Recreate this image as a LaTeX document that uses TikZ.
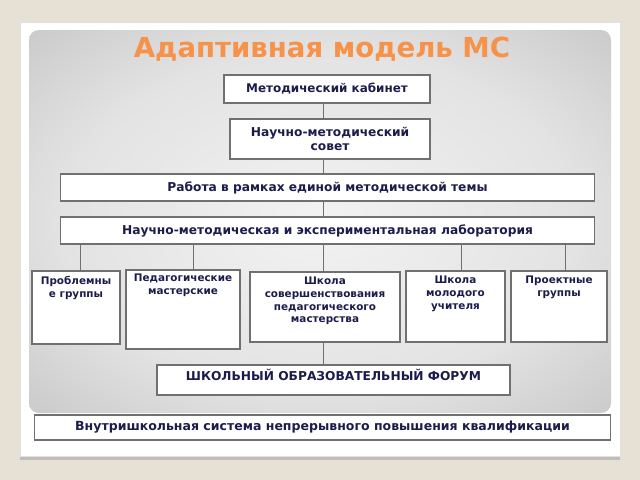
\documentclass[tikz,border=0pt]{standalone}
\usepackage{fontspec}
\setmainfont{DejaVu Sans}
\usetikzlibrary{positioning,shadows}

\definecolor{bgbeige}{HTML}{E6E0D5}
\definecolor{titleorange}{HTML}{F7924A}
\definecolor{navytext}{HTML}{1C1C4C}
\definecolor{edgegray}{HTML}{707070}
\pgfdeclareradialshading{panelshade}{\pgfpoint{0bp}{0bp}}{%
  rgb(0bp)=(0.95,0.95,0.95); rgb(22bp)=(0.89,0.89,0.89);
  rgb(50bp)=(0.69,0.69,0.69); rgb(72bp)=(0.56,0.56,0.56)}

\tikzset{
  box/.style={draw=edgegray, fill=white, line width=0.8pt, text=navytext,
    font=\bfseries\fontsize{8.7}{10.4}\selectfont, align=center, inner sep=2pt},
  lbl/.style={anchor=north, text=navytext, align=center, inner sep=4pt,
    font=\bfseries\fontsize{7.4}{9}\selectfont},
  link/.style={draw=edgegray, line width=0.6pt}
}

\begin{document}
\begin{tikzpicture}[x=0.025cm, y=-0.025cm]

    \useasboundingbox (0,0) rectangle (640,480);
    \fill[bgbeige] (0,0) rectangle (640,480);
    \filldraw[fill=white, draw=black!12, drop shadow={shadow xshift=0pt, shadow yshift=-3pt, opacity=0.35}] (20,22) rectangle (620,456);
    \shade[shading=panelshade, rounded corners=7pt] (29,30) rectangle (611,413);

    \node[text=titleorange, font=\bfseries\fontsize{19.6}{22}\selectfont] (title) at (322,49) {Адаптивная модель МС};

    \node[box, minimum width=5.15cm, minimum height=0.7cm, font=\bfseries\fontsize{8.5}{10.2}\selectfont] (kab) at (327,89) {Методический кабинет};
    \node[box, minimum width=5.0cm, minimum height=1.0cm] (sovet) at (330,139) {Научно-методический\\совет};
    \node[box, minimum width=13.325cm, minimum height=0.675cm] (rabota) at (327.5,187.5) {Работа в рамках единой методической темы};
    \node[box, minimum width=13.325cm, minimum height=0.675cm] (lab) at (327.5,230.5) {Научно-методическая и экспериментальная лаборатория};

    \node[box, minimum width=2.2cm, minimum height=1.825cm, label={[lbl]north:{Проблемны\\е группы}}] (probl) at (76,307.5) {};
    \node[box, minimum width=2.85cm, minimum height=1.975cm, label={[lbl, inner sep=3pt]north:{Педагогические\\мастерские}}] (ped) at (183,309.5) {};
    \node[box, minimum width=3.75cm, minimum height=1.75cm, label={[lbl]north:{Школа\\совершенствования\\педагогического\\мастерства}}] (sov) at (325,307) {};
    \node[box, minimum width=2.475cm, minimum height=1.775cm, label={[lbl]north:{Школа\\молодого\\учителя}}] (mol) at (455.5,306.5) {};
    \node[box, minimum width=2.4cm, minimum height=1.775cm, label={[lbl]north:{Проектные\\группы}}] (proj) at (559,306.5) {};

    \node[box, minimum width=8.825cm, minimum height=0.75cm, label={[lbl, inner sep=3pt, font=\bfseries\fontsize{8.7}{10.4}\selectfont]north:{ШКОЛЬНЫЙ ОБРАЗОВАТЕЛЬНЫЙ ФОРУМ}}] (forum) at (333.5,380) {};
    \node[box, minimum width=14.375cm, minimum height=0.625cm, font=\bfseries\fontsize{8.9}{10.6}\selectfont] (vnutr) at (322.5,427.5) {Внутришкольная система непрерывного повышения квалификации};

    % main chain
    \draw[link] (kab.south -| 323,0) -- (sovet.north -| 323,0);
    \draw[link] (sovet.south -| 323,0) -- (rabota.north -| 323,0);
    \draw[link] (rabota.south -| 323,0) -- (lab.north -| 323,0);
    \draw[link] (sov.south -| 323,0) -- (forum.north -| 323,0);
    % branches
    \foreach \b/\x in {probl/80, ped/193, sov/323, mol/461, proj/565}
        \draw[link] (lab.south -| \x,0) -- (\b.north -| \x,0);

\end{tikzpicture}
\end{document}
